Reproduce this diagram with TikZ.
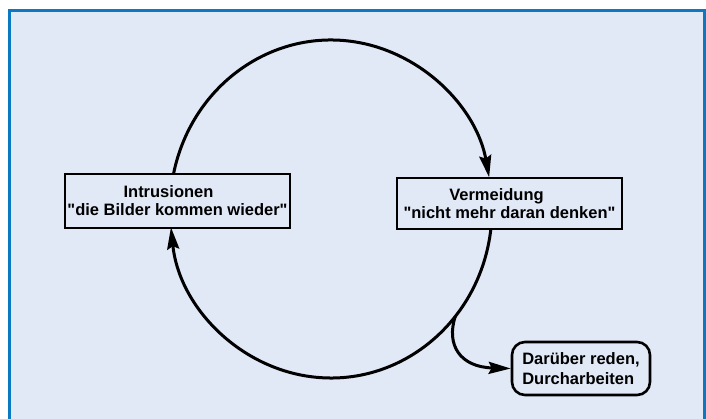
\documentclass[tikz,border=0pt]{standalone}
\usepackage{fontspec}
\setmainfont{Liberation Sans}[Ligatures=TeXOff]
\usetikzlibrary{arrows.meta}
\definecolor{panelfill}{HTML}{E1E8F6}
\definecolor{panelrim}{HTML}{0B78C2}
\tikzset{
  cyclebox/.style={draw=black, line width=2.6pt, fill=panelfill, inner sep=0pt,
    minimum width=225pt, font=\fontsize{16.5}{18}\bfseries\selectfont, align=center},
  exitbox/.style={draw=black, line width=2.6pt, fill=panelfill, rounded corners=13pt,
    inner sep=0pt, minimum width=138pt, minimum height=53pt,
    font=\fontsize{16.5}{20}\bfseries\selectfont, align=left},
  flow/.style={line width=3pt, -{Stealth[length=22pt,width=12pt,inset=3pt]}},
}
\begin{document}
\begin{tikzpicture}[x=1pt,y=-1pt]
  \useasboundingbox (0,0) rectangle (706,418);
  % panel
  \fill[white] (0,0) rectangle (706,418);
  \draw[panelrim, fill=panelfill, line width=3pt] (9.5,10.5) rectangle (704.5,430);

  % cycle centre and boxes
  \coordinate (cc) at (331,209);
  \node[cyclebox, minimum height=54pt] (intr) at (177.5,201)
    {Intrusionen\hspace*{18pt}\\"die Bilder kommen wieder"};
  \node[cyclebox, minimum height=51pt] (verm) at (509.5,203.5)
    {Vermeidung\hspace*{26pt}\\"nicht mehr daran denken"};
  \node[exitbox] (talk) at (581,368.5) {Darüber reden,\\Durcharbeiten};

  % upper arc: Intrusionen -> Vermeidung
  \path (cc) ++(191.95:161 and 169) coordinate (up0);
  \draw[flow] (up0) arc[start angle=191.95, end angle=349.2, x radius=161, y radius=169];
  % lower arc: Vermeidung -> Intrusionen
  \path (cc) ++(6.8:161 and 169) coordinate (lo0);
  \draw[flow] (lo0) arc[start angle=6.8, end angle=173.8, x radius=161, y radius=169];

  % branch leaving the cycle
  \path (cc) ++(39.5:161 and 169) coordinate (br0);
  \draw[flow] (br0) .. controls (446,345) and (460,367) .. (talk.west);
\end{tikzpicture}
\end{document}
